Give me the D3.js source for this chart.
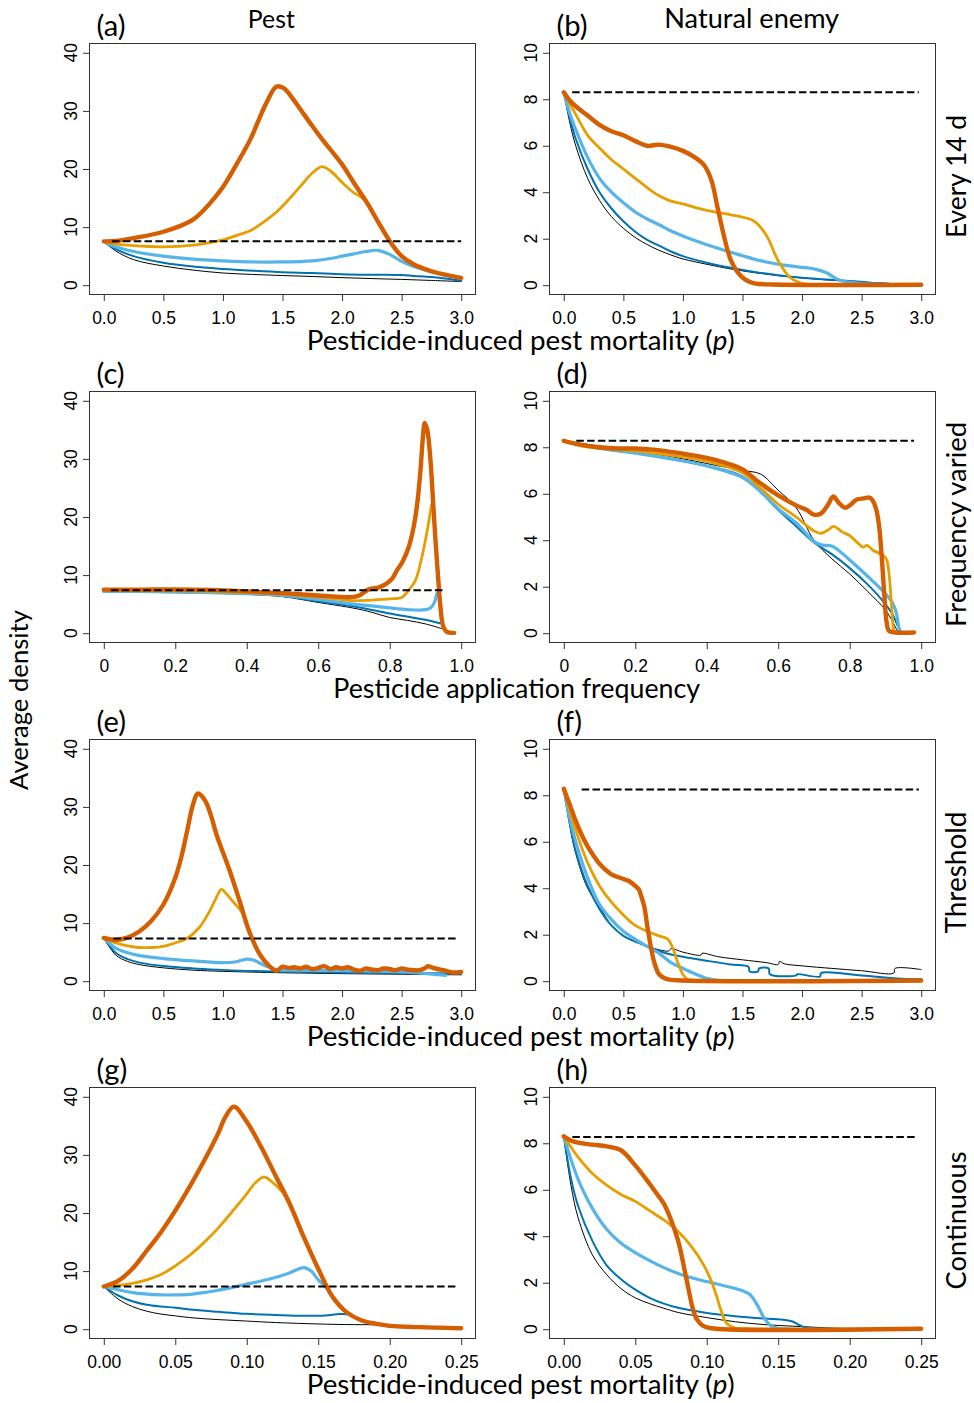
<!DOCTYPE html>
<html>
<head>
<meta charset="utf-8">
<script src="https://cdn.jsdelivr.net/npm/d3@7"></script>
<style>
    body { margin: 0; background: #ffffff; }
</style>
</head>
<body>
<div id="chart"></div>
<script>

///////////////////////////////////////////////////////////////////////////////////////////////////
// data: each series is a list of [x, average density] pairs
// series order in every panel: black, dark blue, sky blue, yellow, orange
///////////////////////////////////////////////////////////////////////////////////////////////////

// (a) every 14 d, pest
const a_black = [[0,7.55],[0.1,5.9],[0.25,4.4],[0.5,3.3],[0.75,2.6],[1.0,2.1],[1.25,1.85],[1.5,1.66],[1.75,1.5],[2.0,1.3],[2.25,1.14],[2.5,1.0],[2.75,0.82],[3.0,0.63]];
const a_blue = [[0,7.55],[0.1,6.2],[0.25,5.0],[0.5,3.85],[0.75,3.2],[1.0,2.8],[1.25,2.5],[1.5,2.25],[1.75,2.1],[2.0,1.9],[2.25,1.8],[2.5,1.75],[2.6,1.6],[2.75,1.4],[2.9,1.05],[3.0,0.8]];
const a_sky = [[0,7.55],[0.1,6.6],[0.25,5.8],[0.5,5.0],[0.75,4.5],[1.0,4.2],[1.25,4.0],[1.5,4.0],[1.75,4.2],[1.9,4.6],[2.0,5.0],[2.1,5.4],[2.2,5.8],[2.3,6.0],[2.4,5.3],[2.5,4.1],[2.6,3.2],[2.75,2.3],[2.9,1.6],[3.0,1.2]];
const a_yellow = [[0,7.55],[0.1,7.1],[0.25,6.8],[0.5,6.6],[0.75,6.9],[1.0,7.8],[1.15,8.8],[1.25,9.6],[1.35,11.0],[1.45,12.6],[1.55,14.7],[1.65,17.0],[1.75,19.3],[1.83,20.4],[1.9,19.7],[2.0,17.7],[2.1,15.9],[2.17,15.0],[2.25,12.8],[2.3,11.0],[2.4,7.6],[2.5,5.0],[2.6,3.6],[2.75,2.4],[2.9,1.66],[3.0,1.26]];
const a_orange = [[0,7.55],[0.1,7.6],[0.25,8.1],[0.5,9.2],[0.75,11.3],[0.9,14.3],[1.0,16.9],[1.12,21.0],[1.23,25.1],[1.3,28.4],[1.37,31.6],[1.45,34.2],[1.51,33.9],[1.59,32.0],[1.68,29.4],[1.75,27.4],[1.83,25.2],[1.9,23.4],[2.0,20.8],[2.1,17.6],[2.2,14.5],[2.3,11.0],[2.4,7.6],[2.5,5.0],[2.6,3.6],[2.75,2.4],[2.9,1.66],[3.0,1.26]];
const a_dash = [[0.07,7.55],[3.0,7.55]];

// (b) every 14 d, natural enemy
const b_black = [[0,8.3],[0.05,7.0],[0.1,6.0],[0.2,4.6],[0.3,3.65],[0.4,2.95],[0.5,2.45],[0.6,2.05],[0.7,1.75],[0.8,1.5],[0.9,1.3],[1.0,1.13],[1.2,0.9],[1.4,0.7],[1.6,0.54],[1.8,0.41],[2.0,0.31],[2.2,0.23],[2.4,0.17],[2.6,0.11],[2.8,0.06],[3.0,0.03]];
const b_blue = [[0,8.3],[0.05,7.2],[0.1,6.3],[0.2,5.0],[0.3,4.0],[0.4,3.3],[0.5,2.75],[0.6,2.3],[0.7,1.95],[0.8,1.7],[0.9,1.45],[1.0,1.25],[1.2,0.97],[1.4,0.75],[1.6,0.57],[1.8,0.43],[2.0,0.32],[2.2,0.25],[2.4,0.18],[2.6,0.1],[2.8,0.05],[3.0,0.02]];
const b_sky = [[0,8.3],[0.05,7.4],[0.1,6.7],[0.2,5.5],[0.3,4.6],[0.4,4.0],[0.5,3.55],[0.6,3.15],[0.7,2.85],[0.8,2.6],[0.9,2.33],[1.0,2.12],[1.1,1.92],[1.2,1.74],[1.3,1.58],[1.4,1.42],[1.5,1.27],[1.6,1.12],[1.7,1.0],[1.8,0.9],[1.9,0.83],[2.0,0.77],[2.1,0.7],[2.2,0.55],[2.3,0.25],[2.4,0.12],[2.5,0.07],[2.75,0.03],[3.0,0.02]];
const b_yellow = [[0,8.3],[0.05,7.8],[0.1,7.35],[0.2,6.45],[0.3,5.9],[0.4,5.4],[0.5,5.0],[0.6,4.6],[0.7,4.2],[0.8,3.85],[0.9,3.62],[1.0,3.5],[1.1,3.35],[1.2,3.22],[1.3,3.12],[1.4,3.03],[1.5,2.93],[1.6,2.75],[1.7,2.15],[1.8,1.05],[1.9,0.33],[2.0,0.08],[2.1,0.03],[3.0,0.02]];
const b_orange = [[0,8.3],[0.05,7.95],[0.1,7.7],[0.2,7.3],[0.3,6.9],[0.4,6.62],[0.5,6.45],[0.6,6.2],[0.7,6.0],[0.8,6.05],[0.9,5.95],[1.0,5.78],[1.1,5.5],[1.18,5.15],[1.24,4.5],[1.29,3.35],[1.35,2.0],[1.4,1.1],[1.46,0.55],[1.52,0.25],[1.6,0.08],[1.75,0.03],[3.0,0.02]];
const b_dash = [[0.07,8.3],[2.98,8.3]];

// (c) frequency varied, pest
const c_black = [[0,7.1],[0.1,7.05],[0.2,7.0],[0.3,6.9],[0.4,6.7],[0.5,6.3],[0.6,5.3],[0.7,4.3],[0.75,3.6],[0.8,2.7],[0.85,2.2],[0.9,1.6],[0.945,0.8]];
const c_blue = [[0,7.2],[0.1,7.15],[0.2,7.05],[0.3,6.95],[0.4,6.8],[0.5,6.4],[0.6,5.5],[0.7,4.6],[0.8,3.4],[0.9,2.3],[0.94,1.7]];
const c_sky = [[0,7.2],[0.1,7.2],[0.2,7.1],[0.3,7.0],[0.4,6.8],[0.5,6.5],[0.6,5.8],[0.65,5.4],[0.7,5.0],[0.75,4.7],[0.8,4.35],[0.85,4.05],[0.9,4.05],[0.915,4.4],[0.925,5.3],[0.932,6.8]];
const c_yellow = [[0,7.4],[0.1,7.3],[0.2,7.3],[0.3,7.2],[0.4,7.0],[0.5,6.7],[0.6,6.2],[0.65,5.9],[0.7,5.6],[0.75,5.7],[0.8,5.9],[0.835,6.2],[0.853,7.4],[0.872,9.1],[0.89,13.1],[0.905,17.7],[0.917,22.1]];
const c_orange = [[0,7.5],[0.1,7.5],[0.2,7.55],[0.3,7.45],[0.4,7.2],[0.5,6.9],[0.6,6.5],[0.65,6.3],[0.69,6.2],[0.715,6.5],[0.74,7.5],[0.77,7.9],[0.79,8.5],[0.807,9.4],[0.82,10.8],[0.835,12.2],[0.853,14.8],[0.867,18.3],[0.877,22.3],[0.886,28],[0.893,33.8],[0.898,36.2],[0.905,35],[0.914,29.8],[0.92,24],[0.928,16],[0.936,9.1],[0.942,4.5],[0.949,1.3],[0.958,0.3],[0.968,0.1],[0.98,0.05]];
const c_dash = [[0.02,7.4],[0.956,7.4]];

// (d) frequency varied, natural enemy
const d_black = [[0,8.28],[0.1,8.05],[0.2,7.85],[0.3,7.6],[0.4,7.3],[0.5,7.0],[0.55,6.85],[0.6,6.15],[0.65,5.4],[0.7,4.0],[0.75,3.2],[0.8,2.55],[0.85,1.8],[0.9,1.0],[0.92,0.5],[0.935,0.1],[0.95,0.03]];
const d_blue = [[0,8.28],[0.1,7.95],[0.2,7.75],[0.3,7.5],[0.4,7.2],[0.5,6.75],[0.6,5.3],[0.65,4.6],[0.7,3.9],[0.75,3.4],[0.8,2.8],[0.85,2.1],[0.9,1.25],[0.92,0.8],[0.935,0.3],[0.945,0.05],[0.96,0.03]];
const d_sky = [[0,8.28],[0.1,7.95],[0.2,7.75],[0.3,7.5],[0.4,7.2],[0.5,6.7],[0.55,6.1],[0.6,5.35],[0.65,4.75],[0.7,3.95],[0.72,3.8],[0.75,3.75],[0.77,3.55],[0.8,3.15],[0.85,2.45],[0.9,1.7],[0.92,1.3],[0.93,0.9],[0.937,0.3],[0.943,0.05],[0.96,0.03]];
const d_yellow = [[0,8.28],[0.05,8.05],[0.1,7.95],[0.2,7.85],[0.3,7.65],[0.4,7.4],[0.5,6.9],[0.55,6.25],[0.6,5.55],[0.65,5.0],[0.7,4.4],[0.72,4.3],[0.74,4.45],[0.755,4.6],[0.78,4.35],[0.8,4.2],[0.82,3.92],[0.838,3.7],[0.848,3.78],[0.866,3.56],[0.894,3.35],[0.904,3.13],[0.911,2.4],[0.918,1.0],[0.924,0.11],[0.93,0.03],[0.95,0.03]];
const d_orange = [[0,8.28],[0.05,8.1],[0.1,8.0],[0.15,7.95],[0.2,7.95],[0.25,7.9],[0.3,7.8],[0.35,7.68],[0.4,7.54],[0.45,7.34],[0.5,7.05],[0.55,6.45],[0.6,5.93],[0.65,5.5],[0.68,5.3],[0.7,5.1],[0.72,5.15],[0.74,5.55],[0.754,5.88],[0.77,5.6],[0.787,5.4],[0.8,5.5],[0.82,5.75],[0.84,5.8],[0.857,5.83],[0.868,5.6],[0.876,5.2],[0.883,4.5],[0.89,3.2],[0.897,1.6],[0.903,0.5],[0.91,0.1],[0.93,0.03],[0.98,0.03]];
const d_dash = [[0.035,8.28],[0.98,8.28]];

// (e) threshold, pest
const e_black = [[0,7.45],[0.1,4.5],[0.2,3.4],[0.3,2.85],[0.5,2.3],[0.75,1.9],[1.0,1.7],[1.5,1.45],[2.0,1.3],[2.5,1.2],[3.0,1.1]];
const e_blue = [[0,7.45],[0.1,4.9],[0.2,3.8],[0.3,3.2],[0.5,2.6],[0.75,2.2],[1.0,1.95],[1.25,1.75],[1.5,1.65],[2.0,1.5],[2.5,1.4],[2.8,1.35],[3.0,1.3]];
const e_sky = [[0,7.45],[0.1,5.7],[0.2,4.9],[0.3,4.4],[0.5,3.9],[0.75,3.5],[1.0,3.2],[1.1,3.3],[1.2,3.8],[1.26,3.6],[1.35,2.7],[1.45,2.0],[1.6,1.9],[2.0,1.8],[2.5,1.6],[2.87,1.0]];
const e_yellow = [[0,7.45],[0.1,6.6],[0.2,6.1],[0.3,5.8],[0.4,5.8],[0.5,6.0],[0.6,6.6],[0.7,7.4],[0.8,9.2],[0.89,12.1],[0.945,14.4],[0.987,15.8],[1.03,15.0],[1.08,13.8],[1.16,11.8],[1.22,8.6],[1.31,4.6]];
const e_orange = [[0,7.45],[0.1,7.1],[0.2,7.5],[0.3,8.6],[0.4,10.4],[0.5,13.2],[0.6,17.8],[0.65,21.3],[0.7,25.9],[0.75,30.5],[0.79,32.3],[0.85,31.1],[0.9,28.5],[0.945,25.3],[1.057,19],[1.14,13.8],[1.22,8.6],[1.31,4.6],[1.39,2.6],[1.45,1.8],
    [1.5,2.5],[1.55,2.3],[1.6,2.4],[1.65,2.2],[1.7,2.5],[1.75,2.1],[1.8,2.3],[1.85,2.6],[1.9,2.1],[1.95,2.4],[2.0,2.2],[2.05,2.4],[2.1,2.0],[2.15,1.8],[2.2,2.2],[2.25,2.0],[2.3,1.9],[2.35,2.2],[2.4,2.1],[2.45,1.9],[2.5,2.2],[2.55,2.0],[2.6,1.9],[2.65,1.9],[2.7,2.3],[2.72,2.6],[2.75,2.4],[2.8,2.1],[2.85,1.9],[2.9,1.6],[2.95,1.5],[3.0,1.6]];
const e_dash = [[0.08,7.35],[2.98,7.35]];

// (f) threshold, natural enemy
const f_black = [[0,8.28],[0.05,6.7],[0.1,5.5],[0.2,4.0],[0.3,3.2],[0.4,2.4],[0.5,1.95],[0.6,1.7],[0.7,1.5],[0.8,1.35],[0.88,1.3],[0.9,1.4],[1.0,1.25],[1.15,1.12],[1.16,1.2],[1.3,1.05],[1.5,0.92],[1.7,0.8],[1.8,0.72],[1.81,0.85],[1.85,0.75],[2.0,0.66],[2.25,0.55],[2.5,0.45],[2.77,0.35],[2.78,0.55],[3.0,0.5]];
const f_blue = [[0,8.28],[0.05,6.8],[0.1,5.6],[0.2,4.1],[0.3,3.1],[0.4,2.4],[0.5,1.95],[0.6,1.7],[0.7,1.5],[0.8,1.3],[0.9,1.15],[1.0,1.05],[1.2,0.88],[1.4,0.72],[1.55,0.62],[1.56,0.42],[1.63,0.42],[1.64,0.55],[1.72,0.55],[1.73,0.3],[1.95,0.25],[1.96,0.3],[2.15,0.2],[2.16,0.35],[2.5,0.25],[2.8,0.12],[3.0,0.08]];
const f_sky = [[0,8.28],[0.05,7.0],[0.1,6.0],[0.2,4.45],[0.3,3.3],[0.4,2.65],[0.5,2.15],[0.6,1.8],[0.7,1.5],[0.8,1.2],[0.85,1.0],[0.9,0.8],[1.0,0.55],[1.1,0.32],[1.2,0.13],[1.3,0.04],[1.4,0.03]];
const f_yellow = [[0,8.28],[0.1,6.5],[0.2,5.1],[0.3,4.1],[0.4,3.4],[0.5,2.85],[0.6,2.4],[0.7,2.15],[0.8,1.95],[0.87,1.82],[0.915,1.43],[0.957,0.79],[1.0,0.29],[1.04,0.07],[1.1,0.03]];
const f_orange = [[0,8.28],[0.05,7.6],[0.1,6.9],[0.15,6.3],[0.2,5.8],[0.25,5.4],[0.3,5.05],[0.4,4.6],[0.5,4.4],[0.55,4.3],[0.6,4.1],[0.63,3.95],[0.65,3.66],[0.676,3.2],[0.7,2.4],[0.73,1.5],[0.76,0.8],[0.8,0.3],[0.86,0.1],[0.95,0.04],[3.0,0.03]];
const f_dash = [[0.15,8.25],[2.98,8.25]];

// (g) continuous, pest
const g_black = [[0,7.35],[0.01,5.2],[0.02,3.9],[0.03,3.1],[0.04,2.6],[0.05,2.3],[0.06,2.0],[0.08,1.65],[0.1,1.4],[0.12,1.15],[0.15,0.9],[0.17,0.8],[0.19,0.75],[0.2,0.6],[0.22,0.35],[0.25,0.17]];
const g_blue = [[0,7.35],[0.01,5.8],[0.02,4.8],[0.03,4.2],[0.04,3.9],[0.05,3.7],[0.06,3.4],[0.08,3.0],[0.1,2.65],[0.12,2.45],[0.14,2.3],[0.155,2.35],[0.165,2.6],[0.172,2.5],[0.18,1.55],[0.19,1.0],[0.2,0.58],[0.22,0.35],[0.25,0.17]];
const g_sky = [[0,7.35],[0.01,6.8],[0.02,6.3],[0.03,6.05],[0.04,5.9],[0.05,5.9],[0.06,6.0],[0.07,6.3],[0.08,6.7],[0.09,7.2],[0.1,7.75],[0.11,8.3],[0.12,8.9],[0.13,9.7],[0.14,10.6],[0.145,10.0],[0.15,8.5],[0.155,7.3],[0.16,5.6],[0.17,2.9],[0.18,1.55],[0.2,0.58],[0.22,0.35],[0.25,0.17]];
const g_yellow = [[0,7.35],[0.01,7.55],[0.02,7.9],[0.03,8.5],[0.04,9.4],[0.05,10.9],[0.06,12.7],[0.07,14.9],[0.08,17.4],[0.09,20.3],[0.1,23.3],[0.106,25.2],[0.112,26.2],[0.117,25.5],[0.125,23.6],[0.13,21.6],[0.14,15.8],[0.15,10.4],[0.16,5.6],[0.17,2.9],[0.18,1.55],[0.2,0.58],[0.22,0.35],[0.25,0.17]];
const g_orange = [[0,7.35],[0.01,8.3],[0.02,10.4],[0.03,13.5],[0.04,16.7],[0.05,20.4],[0.06,24.5],[0.07,28.9],[0.08,33.7],[0.085,36.5],[0.091,38.3],[0.1,35.7],[0.11,31.4],[0.12,26.5],[0.13,21.6],[0.14,15.8],[0.15,10.4],[0.16,5.6],[0.17,2.9],[0.18,1.55],[0.19,0.95],[0.2,0.58],[0.22,0.35],[0.25,0.17]];
const g_dash = [[0.0065,7.35],[0.247,7.35]];

// (h) continuous, natural enemy
const h_black = [[0,8.3],[0.005,6.2],[0.01,4.8],[0.02,3.2],[0.03,2.35],[0.04,1.75],[0.05,1.35],[0.06,1.1],[0.07,0.9],[0.08,0.72],[0.1,0.5],[0.12,0.32],[0.14,0.2],[0.16,0.13],[0.18,0.07],[0.2,0.03],[0.25,0.02]];
const h_blue = [[0,8.3],[0.005,6.5],[0.01,5.3],[0.02,3.8],[0.03,2.75],[0.04,2.15],[0.05,1.7],[0.06,1.35],[0.07,1.1],[0.08,0.92],[0.1,0.7],[0.12,0.56],[0.14,0.46],[0.155,0.4],[0.16,0.33],[0.165,0.17],[0.17,0.05],[0.18,0.02],[0.25,0.02]];
const h_sky = [[0,8.3],[0.005,7.3],[0.01,6.45],[0.02,5.2],[0.03,4.3],[0.04,3.7],[0.05,3.3],[0.06,2.95],[0.07,2.65],[0.08,2.4],[0.09,2.2],[0.1,2.05],[0.11,1.9],[0.12,1.75],[0.125,1.65],[0.13,1.5],[0.135,1.08],[0.14,0.5],[0.145,0.14],[0.15,0.04],[0.25,0.02]];
const h_yellow = [[0,8.3],[0.01,7.4],[0.02,6.7],[0.03,6.2],[0.04,5.8],[0.05,5.5],[0.06,5.1],[0.07,4.7],[0.08,4.2],[0.09,3.5],[0.0975,2.8],[0.103,2.1],[0.107,1.4],[0.11,0.8],[0.114,0.25],[0.12,0.05],[0.13,0.02],[0.25,0.02]];
const h_orange = [[0,8.3],[0.005,8.12],[0.01,8.03],[0.02,7.94],[0.03,7.87],[0.04,7.7],[0.05,7.05],[0.06,6.26],[0.065,5.83],[0.07,5.4],[0.075,4.7],[0.08,3.8],[0.085,2.4],[0.0875,1.65],[0.09,0.94],[0.093,0.43],[0.0975,0.14],[0.103,0.04],[0.25,0.02]];
const h_dash = [[0.006,8.27],[0.247,8.27]];

// ticks and labels
const ticks_mort = [0, 0.5, 1.0, 1.5, 2.0, 2.5, 3.0];
const ticks_freq = [0, 0.2, 0.4, 0.6, 0.8, 1.0];
const ticks_cont = [0, 0.05, 0.10, 0.15, 0.20, 0.25];
const ticks_pest = [0, 10, 20, 30, 40];
const ticks_enemy = [0, 2, 4, 6, 8, 10];

const column_titles = ["Pest", "Natural enemy"];
const row_titles = ["Every 14 d", "Frequency varied", "Threshold", "Continuous"];
const panel_letters = ["(a)", "(b)", "(c)", "(d)", "(e)", "(f)", "(g)", "(h)"];

const line_colors = ["#000000", "#0072B2", "#56B4E9", "#E69F00", "#D55E00"];
const line_widths = [1, 2, 3.2, 2.8, 4.4];

///////////////////////////////////////////////////////////////////////////////////////////////////

var fig_width = 974;
var fig_height = 1403;
var col_left = [89.5, 549.5];
var box_width = 386;
var box_height = 251;
var row_top0 = 43.5;
var row_step = 348;
var label_font = "Lato, 'Open Sans', sans-serif";
var tick_font = "'Liberation Sans', Arial, sans-serif";
var tick_size = 17.5;

var panels = [
    { col: 0, row: 0, x_max: 3,    y_max: 40, x_ticks: ticks_mort, x_fmt: ".1f", y_ticks: ticks_pest,  lines: [a_black, a_blue, a_sky, a_yellow, a_orange], dash: a_dash },
    { col: 1, row: 0, x_max: 3,    y_max: 10, x_ticks: ticks_mort, x_fmt: ".1f", y_ticks: ticks_enemy, lines: [b_black, b_blue, b_sky, b_yellow, b_orange], dash: b_dash },
    { col: 0, row: 1, x_max: 1,    y_max: 40, x_ticks: ticks_freq, x_fmt: ".1f", y_ticks: ticks_pest,  lines: [c_black, c_blue, c_sky, c_yellow, c_orange], dash: c_dash },
    { col: 1, row: 1, x_max: 1,    y_max: 10, x_ticks: ticks_freq, x_fmt: ".1f", y_ticks: ticks_enemy, lines: [d_black, d_blue, d_sky, d_yellow, d_orange], dash: d_dash },
    { col: 0, row: 2, x_max: 3,    y_max: 40, x_ticks: ticks_mort, x_fmt: ".1f", y_ticks: ticks_pest,  lines: [e_black, e_blue, e_sky, e_yellow, e_orange], dash: e_dash },
    { col: 1, row: 2, x_max: 3,    y_max: 10, x_ticks: ticks_mort, x_fmt: ".1f", y_ticks: ticks_enemy, lines: [f_black, f_blue, f_sky, f_yellow, f_orange], dash: f_dash },
    { col: 0, row: 3, x_max: 0.25, y_max: 40, x_ticks: ticks_cont, x_fmt: ".2f", y_ticks: ticks_pest,  lines: [g_black, g_blue, g_sky, g_yellow, g_orange], dash: g_dash },
    { col: 1, row: 3, x_max: 0.25, y_max: 10, x_ticks: ticks_cont, x_fmt: ".2f", y_ticks: ticks_enemy, lines: [h_black, h_blue, h_sky, h_yellow, h_orange], dash: h_dash }
];

///////////////////////////////////////////////////////////////////////////////////////////////////

function fit_text(sel, target_width) {
    //////////////////////////////////////////////////////////////////////
    //
    // Rescales the font size of a text element so that its rendered
    // length equals target_width (pixels)
    //
    //////////////////////////////////////////////////////////////////////
    let w = sel.node().getComputedTextLength();
    let fs = parseFloat(sel.attr("font-size"));
    if (w > 0) { sel.attr("font-size", (fs * target_width / w).toFixed(2)); }
    return parseFloat(sel.attr("font-size"));
} // end function

///////////////////////////////////////////////////////////////////////////////////////////////////

function draw_panel(svg, p, letter, letter_size) {

    let left = col_left[p.col];
    let top = row_top0 + p.row * row_step;
    let bottom = top + box_height;

    // R style: 4% padding each side of the data range
    var x = d3.scaleLinear()
        .domain([-0.04 * p.x_max, 1.04 * p.x_max])
        .range([left, left + box_width]);
    var y = d3.scaleLinear()
        .domain([-0.04 * p.y_max, 1.04 * p.y_max])
        .range([bottom, top]);

    var g = svg.append("g");

    // x axis
    var x_fmt = d3.format(p.x_fmt);
    var gx = g.append("g")
        .attr("transform", "translate(0," + bottom + ")")
        .call(d3.axisBottom(x)
            .tickValues(p.x_ticks)
            .tickSize(6.5)
            .tickFormat(function(d) { return d === 0 && p.x_max === 1 ? "0" : x_fmt(d); }));
    gx.select(".domain").remove();
    gx.selectAll("line").attr("stroke", "#333");
    gx.selectAll("text")
        .attr("y", 29)
        .attr("dy", null)
        .attr("fill", "#000")
        .style("font-family", tick_font)
        .style("font-size", tick_size + "px");

    // y axis, labels parallel to the axis
    var gy = g.append("g")
        .attr("transform", "translate(" + left + ",0)")
        .call(d3.axisLeft(y)
            .tickValues(p.y_ticks)
            .tickSize(6.5)
            .tickFormat(""));
    gy.select(".domain").remove();
    gy.selectAll("line").attr("stroke", "#333");

    g.selectAll(".ylab")
        .data(p.y_ticks)
        .join("text")
            .attr("class", "ylab")
            .attr("transform", function(d) { return "translate(" + (left - 12.5) + "," + y(d) + ") rotate(-90)"; })
            .attr("text-anchor", "middle")
            .style("font-family", tick_font)
            .style("font-size", tick_size + "px")
            .text(function(d) { return d; });

    // curves, clipped to the plotting box
    var clip_id = "clip" + p.col + p.row;
    g.append("clipPath")
        .attr("id", clip_id)
      .append("rect")
        .attr("x", left)
        .attr("y", top)
        .attr("width", box_width)
        .attr("height", box_height);

    var line = d3.line()
        .x(function(d) { return x(d[0]); })
        .y(function(d) { return y(d[1]); })
        .curve(d3.curveCatmullRom.alpha(0.5));

    g.append("g")
        .attr("clip-path", "url(#" + clip_id + ")")
        .selectAll(".curve")
        .data(p.lines)
        .join("path")
            .attr("class", "curve")
            .attr("d", line)
            .attr("fill", "none")
            .attr("stroke", function(d, i) { return line_colors[i]; })
            .attr("stroke-width", function(d, i) { return line_widths[i]; })
            .attr("stroke-linejoin", "round")
            .attr("stroke-linecap", "round");

    // no-pesticide reference level
    g.append("path")
        .attr("d", d3.line().x(function(d) { return x(d[0]); }).y(function(d) { return y(d[1]); })(p.dash))
        .attr("fill", "none")
        .attr("stroke", "#000")
        .attr("stroke-width", 2)
        .attr("stroke-dasharray", "7.5,3.3");

    // box
    g.append("rect")
        .attr("x", left)
        .attr("y", top)
        .attr("width", box_width)
        .attr("height", box_height)
        .attr("fill", "none")
        .attr("stroke", "#333")
        .attr("stroke-width", 1);

    g.append("text")
        .attr("x", left + 7)
        .attr("y", top - 7.5)
        .attr("font-family", label_font)
        .attr("font-size", letter_size)
        .text(letter);

} // end function

///////////////////////////////////////////////////////////////////////////////////////////////////

var svg = d3.select("#chart")
  .append("svg")
    .attr("width", fig_width)
    .attr("height", fig_height)
    .style("display", "block");

// size of the panel letters, fitted on "(a)"
var probe = svg.append("text")
    .attr("font-family", label_font)
    .attr("font-size", 20)
    .text(panel_letters[0]);
var letter_size = fit_text(probe, 29);
probe.remove();

panels.forEach(function(p, i) { draw_panel(svg, p, panel_letters[i], letter_size); });

// column titles
var title_pos = [[271.3, 47], [751.7, 175]];
column_titles.forEach(function(t, i) {
    let tt = svg.append("text")
        .attr("x", title_pos[i][0])
        .attr("y", 28)
        .attr("text-anchor", "middle")
        .attr("font-family", label_font)
        .attr("font-size", 24)
        .text(t);
    fit_text(tt, title_pos[i][1]);
});

// row titles on the right
var row_title_width = [123, 205, 122, 138];
row_titles.forEach(function(t, i) {
    let cy = row_top0 + i * row_step + 133;
    let tt = svg.append("text")
        .attr("transform", "translate(966," + cy + ") rotate(-90)")
        .attr("text-anchor", "middle")
        .attr("font-family", label_font)
        .attr("font-size", 24)
        .text(t);
    fit_text(tt, row_title_width[i]);
});

// x axis titles
[0, 1, 2, 3].forEach(function(r) {
    let base = row_top0 + r * row_step + box_height + 55.5;
    let tt = svg.append("text")
        .attr("text-anchor", "middle")
        .attr("font-family", label_font)
        .attr("font-size", 24)
        .attr("y", base);
    if (r === 1) {
        tt.attr("x", 516.7).text("Pesticide application frequency");
        fit_text(tt, 367);
    } else {
        tt.attr("x", 520.8);
        tt.append("tspan").text("Pesticide-induced pest mortality (");
        tt.append("tspan").attr("font-style", "italic").text("p");
        tt.append("tspan").text(")");
        fit_text(tt, 428);
    }
});

// shared y title
var yt = svg.append("text")
    .attr("transform", "translate(28.3,700) rotate(-90)")
    .attr("text-anchor", "middle")
    .attr("font-family", label_font)
    .attr("font-size", 24)
    .text("Average density");
fit_text(yt, 180);

</script>
</body>
</html>
